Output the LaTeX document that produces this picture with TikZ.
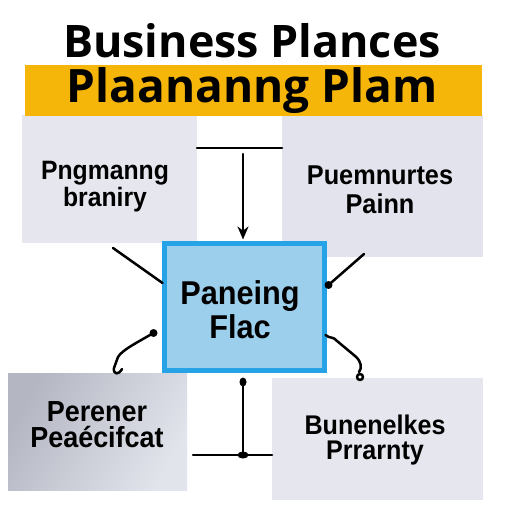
\documentclass[tikz,border=0pt]{standalone}
\usepackage{fontspec}
\setmainfont{Liberation Sans}
\newfontfamily\boxfont{Liberation Sans Bold}[FakeStretch=0.93]
\newfontfamily\titlefont{Open Sans}
\usetikzlibrary{arrows.meta,calc}
\definecolor{barY}{HTML}{F6B509}
\definecolor{boxG}{HTML}{E5E6EE}
\definecolor{boxG2}{HTML}{E2E3EC}
\definecolor{blueF}{HTML}{9CCFEC}
\definecolor{blueB}{HTML}{25A3E6}
\definecolor{shadeD}{HTML}{B4B7C2}
\definecolor{shadeL}{HTML}{E2E4EC}
\begin{document}
\begin{tikzpicture}[x=0.5pt,y=-0.5pt,
  panel/.style={draw=none,inner sep=0pt,outer sep=0pt},
  lbl/.style={align=center,inner sep=0pt},
  wire/.style={line width=1.25pt,black,line cap=round,line join=round}]
\useasboundingbox (0,0) rectangle (512,512);
\fill[white] (0,0) rectangle (512,512);
% panels
\node[panel,fill=boxG,minimum width=87.5pt,minimum height=64pt] (tl) at (109.5,179) {};
\node[panel,fill=boxG2,minimum width=100.5pt,minimum height=71pt] (tr) at (382.5,186) {};
\node[panel,left color=shadeD,right color=shadeL,shading angle=60,minimum width=89.5pt,minimum height=58.5pt] (bl) at (97.5,431.5) {};
\node[panel,fill=boxG,minimum width=105.5pt,minimum height=61pt] (br) at (377.5,439) {};
\node[panel,fill=blueF,draw=blueB,line width=2.5pt,minimum width=80pt,minimum height=63.5pt] (ctr) at (244.5,307) {};
\node[panel,fill=barY,minimum width=228.5pt,minimum height=25.5pt] (bar) at (253.5,90.5) {};
% titles
\node[anchor=base,inner sep=0pt,font=\titlefont\bfseries\fontsize{22.4}{22}\selectfont] (t1) at (252,58) {Business Plances};
\node[anchor=base,inner sep=0pt,font=\titlefont\bfseries\fontsize{23}{23}\selectfont] (t2) at (252,103) {Plaananng Plam};
% labels
\node[lbl,font=\boxfont\fontsize{13.3}{11.8}\selectfont] (tlt) at (105,187) {Pngmanng\\braniry};
\node[lbl,font=\boxfont\fontsize{13.6}{14.5}\selectfont] (trt) at (380,190) {Puemnurtes\\Painn};
\node[lbl,font=\boxfont\fontsize{16.5}{17}\selectfont] (ctt) at (240,310) {Paneing\\Flac};
\node[lbl,font=\boxfont\fontsize{14.5}{13}\selectfont] (blt) at (97,425) {Perener\\Peaécifcat};
\node[lbl,font=\boxfont\fontsize{13.5}{12.8}\selectfont] (brt) at (375,440) {Bunenelkes\\Prrarnty};
% connectors
\coordinate (hl) at (243,148);
\draw[wire] (tl.east |- hl) -- (tr.west |- hl);
\coordinate (as) at (243,154);
\draw[wire,-{Stealth[length=6.5pt,width=5.5pt]},shorten >=2pt] (as) -- (ctr.north -| as);
\coordinate (l1) at (113,248);
\draw[wire] (l1) -- ($(ctr.west)+(-2,-24)$);
\coordinate (r1) at (364,254);
\coordinate (r2) at ($(ctr.east)+(4,-22)$);
\draw[wire] (r1) -- (r2);
\fill (r2) circle (4);
\coordinate (lc) at ($(ctr.west)+(-11,26)$);
\fill (lc) circle (4);
\coordinate (lh) at (122,369);
\draw[wire] (lc) .. controls (138,342) and (122,350) .. (118,357) -- (114,368) .. controls (113,375) and (119,375) .. (lh);
\coordinate (rc) at ($(ctr.east)+(1,28)$);
\coordinate (rh) at (360,377);
\draw[wire] (rc) .. controls (330,339) and (333,336) .. (337,341) -- (355,356) .. controls (362,362) and (362,368) .. (359,372);
\draw[wire] (rh) circle (3);
\coordinate (bd) at (243,382);
\fill (bd) ellipse (3.5 and 4.5);
\coordinate (hb) at (243,455);
\draw[wire] (bd) -- (hb);
\draw[wire,shorten <=3pt] (bl.east |- hb) -- (br.west |- hb);
\fill (hb) ellipse (5.5 and 3.5);
\end{tikzpicture}
\end{document}
